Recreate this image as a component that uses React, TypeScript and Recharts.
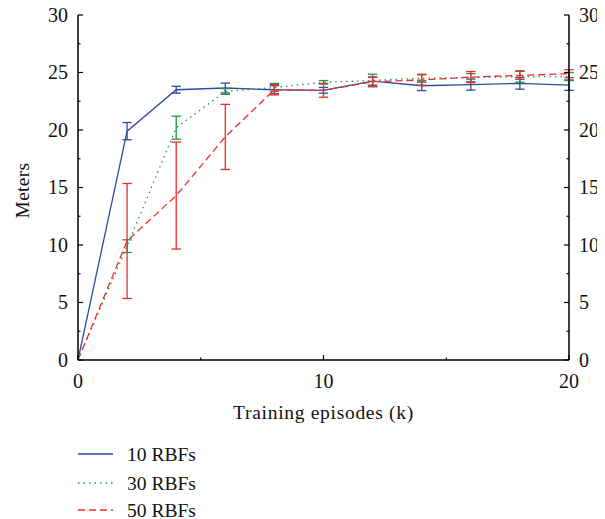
import React from 'react';
import { LineChart, Line, XAxis, YAxis, ErrorBar } from 'recharts';

const episodes = [0, 2, 4, 6, 8, 10, 12, 14, 16, 18, 20];
const rbf10 = [0, 19.9, 23.5, 23.65, 23.5, 23.45, 24.25, 23.85, 23.95, 24.05, 23.9];
const rbf10Err = [null, 0.75, 0.3, 0.43, 0.35, 0.25, 0.35, 0.42, 0.48, 0.5, 0.45];
const rbf30 = [0, 9.9, 20.2, 23.35, 23.7, 24.15, 24.3, 24.5, 24.55, 24.65, 24.65];
const rbf30Err = [null, 0.55, 1.0, 0.25, 0.35, 0.15, 0.55, 0.35, 0.35, 0.5, 0.35];
const rbf50 = [0, 10.35, 14.3, 19.4, 23.5, 23.45, 24.2, 24.35, 24.6, 24.75, 24.9];
const rbf50Err = [null, 5.0, 4.65, 2.83, 0.45, 0.6, 0.4, 0.45, 0.48, 0.35, 0.35];

const xTicks = [0, 5, 10, 15, 20];
const yTicks = [0, 2.5, 5, 7.5, 10, 12.5, 15, 17.5, 20, 22.5, 25, 27.5, 30];

const seriesNames = ['10 RBFs', '30 RBFs', '50 RBFs'];
const colors = ['#2e4c9e', '#229447', '#f22a2a'];
const dashes = ['', '1.5 4', '7 4'];

const data = episodes.map((e, i) => ({
  ep: e,
  a: rbf10[i], aErr: rbf10Err[i],
  b: rbf30[i], bErr: rbf30Err[i],
  c: rbf50[i], cErr: rbf50Err[i],
}));

const FONT = '"Liberation Serif", "Times New Roman", serif';

const BottomTick = (props: any) => {
  const { x, y, payload } = props;
  const major = payload.value % 10 === 0;
  return (
    <g>
      <line x1={x} y1={y} x2={x} y2={y - (major ? 5 : 2.5)} stroke="#000" strokeWidth={1.2} />
      {major && (
        <text x={x} y={y + 28} textAnchor="middle" fontFamily={FONT} fontSize={20} fill="#111">
          {payload.value}
        </text>
      )}
    </g>
  );
};

const TopTick = (props: any) => {
  const { x, y, payload } = props;
  const major = payload.value % 10 === 0;
  return <line x1={x} y1={y} x2={x} y2={y + (major ? 5 : 2.5)} stroke="#000" strokeWidth={1.2} />;
};

const LeftTick = (props: any) => {
  const { x, y, payload } = props;
  const major = payload.value % 5 === 0;
  return (
    <g>
      <line x1={x} y1={y} x2={x + (major ? 5 : 2.5)} y2={y} stroke="#000" strokeWidth={1.2} />
      {major && (
        <text x={x - 10} y={y + 6.5} textAnchor="end" fontFamily={FONT} fontSize={20} fill="#111">
          {payload.value}
        </text>
      )}
    </g>
  );
};

const RightTick = (props: any) => {
  const { x, y, payload } = props;
  const major = payload.value % 5 === 0;
  return (
    <g>
      <line x1={x} y1={y} x2={x - (major ? 5 : 2.5)} y2={y} stroke="#000" strokeWidth={1.2} />
      {major && (
        <text x={x + 10} y={y + 6.5} textAnchor="start" fontFamily={FONT} fontSize={20} fill="#111">
          {payload.value}
        </text>
      )}
    </g>
  );
};

const lineAxes = [
  { x: 'bottom', y: 'left' },
  { x: 'top', y: 'left' },
  { x: 'bottom', y: 'right' },
];

export default function App() {
  const keys = ['a', 'b', 'c'];
  const legendY = [18, 47, 74];
  return (
    <div style={{ position: 'relative', top: -8, width: 597, height: 519 }}>
      <LineChart width={597} height={428} data={data} margin={{ top: 15, right: 0, bottom: 0, left: 0 }}>
        <XAxis
          xAxisId="bottom"
          dataKey="ep"
          type="number"
          domain={[0, 20]}
          ticks={xTicks}
          interval={0}
          height={68}
          tickSize={0}
          tickMargin={0}
          tickLine={false}
          axisLine={{ stroke: '#000', strokeWidth: 1.5 }}
          tick={(p: any) => <BottomTick {...p} />}
          label={(p: any) => {
            const vb = p.viewBox;
            return (
              <text x={vb.x + vb.width / 2} y={vb.y + 59} textAnchor="middle" fontFamily={FONT} fontSize={19.5} letterSpacing={0.7} fill="#111">
                Training episodes (k)
              </text>
            );
          }}
        />
        <XAxis
          xAxisId="top"
          orientation="top"
          dataKey="ep"
          type="number"
          domain={[0, 20]}
          ticks={xTicks}
          interval={0}
          height={0}
          tickSize={0}
          tickMargin={0}
          tickLine={false}
          axisLine={{ stroke: '#000', strokeWidth: 1.5 }}
          tick={(p: any) => <TopTick {...p} />}
        />
        <YAxis
          yAxisId="left"
          type="number"
          domain={[0, 30]}
          ticks={yTicks}
          interval={0}
          width={70}
          tickSize={0}
          tickMargin={0}
          tickLine={false}
          axisLine={{ stroke: '#000', strokeWidth: 1.5 }}
          tick={(p: any) => <LeftTick {...p} />}
          label={(p: any) => {
            const vb = p.viewBox;
            const cx = vb.x + 14;
            const cy = vb.y + vb.height / 2 + 3;
            return (
              <text x={cx} y={cy} transform={`rotate(-90 ${cx} ${cy})`} textAnchor="middle" dominantBaseline="central" fontFamily={FONT} fontSize={19.5} letterSpacing={0.3} fill="#111">
                Meters
              </text>
            );
          }}
        />
        <YAxis
          yAxisId="right"
          orientation="right"
          type="number"
          domain={[0, 30]}
          ticks={yTicks}
          interval={0}
          width={36}
          tickSize={0}
          tickMargin={0}
          tickLine={false}
          axisLine={{ stroke: '#000', strokeWidth: 1.5 }}
          tick={(p: any) => <RightTick {...p} />}
        />
        {keys.map((k, i) => (
          <Line
            key={k}
            xAxisId={lineAxes[i].x}
            yAxisId={lineAxes[i].y}
            type="linear"
            dataKey={k}
            stroke={colors[i]}
            strokeWidth={1.3}
            strokeDasharray={dashes[i] || undefined}
            dot={false}
            activeDot={false}
            isAnimationActive={false}
          >
            <ErrorBar dataKey={`${k}Err`} width={4.7} stroke={colors[i]} strokeWidth={1.3} direction="y" isAnimationActive={false} />
          </Line>
        ))}
      </LineChart>
      <svg width={300} height={83} style={{ position: 'absolute', left: 0, top: 436 }}>
        {seriesNames.map((n, i) => {
          const y = legendY[i];
          return (
            <g key={n}>
              <line x1={70} y1={y} x2={105} y2={y} stroke={colors[i]} strokeWidth={1.3} strokeDasharray={dashes[i] || undefined} />
              <text x={119} y={y + 6.5} fontFamily={FONT} fontSize={19.5} fill="#111">
                {n}
              </text>
            </g>
          );
        })}
      </svg>
    </div>
  );
}
